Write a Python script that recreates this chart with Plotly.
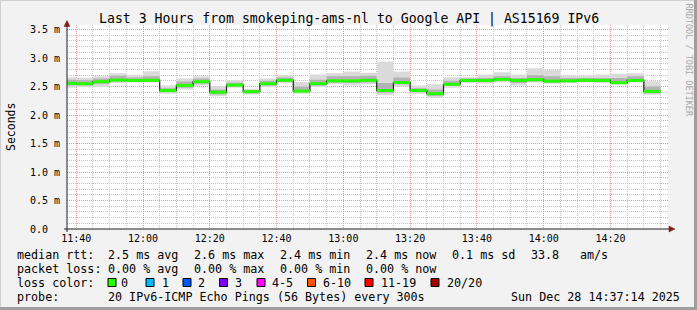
import plotly.graph_objects as go
from datetime import datetime, timedelta

# ---------------- data ----------------
title_text = "Last 3 Hours from smokeping-ams-nl to Google API | AS15169 IPv6"
first_slot = datetime(2025, 12, 28, 11, 35, 0)
slot_minutes = 5
range_start = "2025-12-28 11:37:14"
range_end = "2025-12-28 14:37:14"

median_ms = [2.555, 2.55, 2.585, 2.613, 2.607, 2.61, 2.43, 2.52, 2.585, 2.40,
             2.525, 2.41, 2.55, 2.61, 2.42, 2.55, 2.60, 2.60, 2.61, 2.43,
             2.57, 2.43, 2.375, 2.54, 2.607, 2.607, 2.625, 2.607, 2.62, 2.595,
             2.60, 2.61, 2.607, 2.567, 2.607, 2.415]
smoke_max_ms = [2.665, 2.655, 2.68, 2.735, 2.695, 2.77, 2.52, 2.64, 2.68, 2.51,
                2.61, 2.46, 2.64, 2.695, 2.58, 2.71, 2.735, 2.765, 2.74, 2.94,
                2.765, 2.52, 2.54, 2.665, 2.665, 2.71, 2.75, 2.71, 2.82, 2.795,
                2.695, 2.695, 2.71, 2.725, 2.735, 2.595]
smoke_min_ms = [2.48, 2.49, 2.49, 2.56, 2.57, 2.57, 2.375, 2.45, 2.52, 2.33,
                2.48, 2.36, 2.49, 2.56, 2.375, 2.49, 2.54, 2.52, 2.54, 2.345,
                2.50, 2.375, 2.30, 2.48, 2.56, 2.55, 2.57, 2.52, 2.57, 2.55,
                2.56, 2.57, 2.56, 2.55, 2.57, 2.357]
inner_hi_ms = [2.62, 2.61, 2.64, 2.69, 2.66, 2.68, 2.47, 2.59, 2.64, 2.45,
               2.57, 2.44, 2.60, 2.66, 2.50, 2.62, 2.68, 2.68, 2.69, 2.56,
               2.66, 2.47, 2.45, 2.60, 2.64, 2.65, 2.68, 2.65, 2.70, 2.68,
               2.65, 2.65, 2.65, 2.65, 2.68, 2.50]
inner_lo_ms = [2.52, 2.52, 2.55, 2.59, 2.59, 2.59, 2.40, 2.48, 2.55, 2.36,
               2.50, 2.38, 2.52, 2.58, 2.40, 2.52, 2.57, 2.56, 2.57, 2.39,
               2.54, 2.40, 2.34, 2.51, 2.58, 2.58, 2.60, 2.56, 2.59, 2.57,
               2.58, 2.59, 2.58, 2.54, 2.58, 2.38]

ytick_vals = [0.0, 0.5, 1.0, 1.5, 2.0, 2.5, 3.0, 3.5]
ytick_text = ["0.0\u00a0\u00a0", "0.5 m", "1.0 m", "1.5 m", "2.0 m", "2.5 m", "3.0 m", "3.5 m"]

legend_rows = [
    [("median rtt:", 16), ("2.5 ms avg", 107), ("2.6 ms max", 193), ("2.4 ms min", 279),
     ("2.4 ms now", 365), ("0.1 ms sd", 451), ("33.8", 530), ("am/s", 579)],
    [("packet loss:", 16), ("0.00 % avg", 107), ("0.00 % max", 193), ("0.00 % min", 279),
     ("0.00 % now", 365)],
    [("loss color:", 16)],
    [("probe:", 16), ("20 IPv6-ICMP Echo Pings (56 Bytes) every 300s", 107)],
]
loss_labels = ["0", "1", "2", "3", "4-5", "6-10", "11-19", "20/20"]
loss_colors = ["#26ff00", "#00b8ff", "#0059ff", "#7e00ff", "#ff00ff", "#ff5500", "#ff0000", "#a10000"]
loss_box_x = [108, 146, 183, 219.5, 257, 307.5, 365, 431]
loss_text_x = [120, 160.5, 197, 234.5, 270.5, 321.5, 380, 445.5]
date_text = "Sun Dec 28 14:37:14 2025"

# ---------------- geometry ----------------
W, H = 697, 310
L, R, T, B = 67, 668, 25, 229
PW, PH = R - L, B - T


def px(x):
    return (x - L) / PW


def py(y):
    return (B - y) / PH


n = len(median_ms)
times = [first_slot + timedelta(minutes=slot_minutes * k) for k in range(n + 1)]


def ext(v):
    return list(v) + [v[-1]]


fig = go.Figure()
fig.add_trace(go.Scatter(x=times, y=ext(smoke_min_ms), mode="lines", line=dict(width=0, shape="hv"),
                         hoverinfo="skip", showlegend=False))
fig.add_trace(go.Scatter(x=times, y=ext(smoke_max_ms), mode="lines", line=dict(width=0, shape="hv"),
                         fill="tonexty", fillcolor="#dadada", hoverinfo="skip", showlegend=False))
fig.add_trace(go.Scatter(x=times, y=ext(inner_lo_ms), mode="lines", line=dict(width=0, shape="hv"),
                         hoverinfo="skip", showlegend=False))
fig.add_trace(go.Scatter(x=times, y=ext(inner_hi_ms), mode="lines", line=dict(width=0, shape="hv"),
                         fill="tonexty", fillcolor="#b3b3b3", hoverinfo="skip", showlegend=False))
fig.add_trace(go.Scatter(x=times, y=ext(median_ms), mode="lines", line=dict(width=1.2, shape="hv", color="#202020"),
                         hoverinfo="skip", showlegend=False))
gx, gy = [], []
for k in range(n):
    gx += [times[k], times[k + 1], None]
    gy += [median_ms[k], median_ms[k], None]
fig.add_trace(go.Scatter(x=gx, y=gy, mode="lines", line=dict(width=3, color=loss_colors[0]),
                         hoverinfo="skip", showlegend=False))

mono = "DejaVu Sans Mono"
grid_minor = "#c4c4c4"
grid_major = "#eb9595"

# minor grid positions (skip the major ones so the red lines stay visible)
x_minor = []
t = datetime(2025, 12, 28, 11, 40)
while t <= datetime(2025, 12, 28, 14, 40):
    if t.minute % 20 != 0:
        x_minor.append(t)
    t += timedelta(minutes=5)
y_minor = [round(k * 0.1, 1) for k in range(36) if k % 5 != 0]

fig.update_layout(
    width=W, height=H,
    margin=dict(l=L, r=W - R, t=T, b=H - B, pad=0),
    paper_bgcolor="#f2f2f2", plot_bgcolor="#ffffff",
    showlegend=False,
    xaxis=dict(type="date", range=[range_start, range_end], tickformat="%H:%M",
               tick0="2025-12-28 11:40:00", dtick=1200000,
               showgrid=True, gridcolor=grid_major, griddash="1px,1px", gridwidth=1,
               minor=dict(tickmode="array", tickvals=x_minor, showgrid=True,
                          gridcolor=grid_minor, griddash="1px,1px", gridwidth=1),
               zeroline=False, showline=False, ticks="",
               tickfont=dict(family=mono, size=10, color="#000000"), ticklabelstandoff=2),
    yaxis=dict(range=[0, 3.58], tickvals=ytick_vals, ticktext=ytick_text,
               showgrid=True, gridcolor=grid_major, griddash="1px,1px", gridwidth=1,
               minor=dict(tickmode="array", tickvals=y_minor, showgrid=True, gridcolor=grid_minor,
                          griddash="1px,1px", gridwidth=1),
               zeroline=False, showline=False, ticks="",
               tickfont=dict(family=mono, size=10, color="#000000"), ticklabelstandoff=6),
)

shapes = []
# frame shading
shapes.append(dict(type="line", xref="paper", yref="paper", x0=px(0), x1=px(W), y0=py(0.5), y1=py(0.5),
                   line=dict(color="#cfcfcf", width=1)))
shapes.append(dict(type="line", xref="paper", yref="paper", x0=px(0.5), x1=px(0.5), y0=py(0), y1=py(H),
                   line=dict(color="#cfcfcf", width=1)))
shapes.append(dict(type="line", xref="paper", yref="paper", x0=px(0), x1=px(W), y0=py(308.5), y1=py(308.5),
                   line=dict(color="#9e9e9e", width=3)))
shapes.append(dict(type="line", xref="paper", yref="paper", x0=px(695.5), x1=px(695.5), y0=py(0), y1=py(H),
                   line=dict(color="#9e9e9e", width=3)))
# axes
shapes.append(dict(type="line", xref="paper", yref="paper", x0=px(67), x1=px(67), y0=py(232), y1=py(24),
                   line=dict(color="#1f1f1f", width=1)))
shapes.append(dict(type="line", xref="paper", yref="paper", x0=px(64), x1=px(670), y0=py(229), y1=py(229),
                   line=dict(color="#1f1f1f", width=1)))


def tri(points):
    return "M " + " L ".join(f"{px(a)},{py(b)}" for a, b in points) + " Z"


shapes.append(dict(type="path", xref="paper", yref="paper", path=tri([(64, 26.5), (70, 26.5), (67, 20.5)]),
                   fillcolor="#801f1f", line=dict(color="#801f1f", width=0.5)))
shapes.append(dict(type="path", xref="paper", yref="paper", path=tri([(669, 226), (669, 232), (675, 229)]),
                   fillcolor="#801f1f", line=dict(color="#801f1f", width=0.5)))
# loss colour boxes
for c, bx in zip(loss_colors, loss_box_x):
    shapes.append(dict(type="rect", xref="paper", yref="paper", x0=px(bx), x1=px(bx + 8),
                       y0=py(278.5), y1=py(286.5), fillcolor=c, line=dict(color="#000000", width=1)))
fig.update_layout(shapes=shapes)

ann = []
ann.append(dict(text=title_text, xref="paper", yref="paper", x=px(348.5), y=py(19), xanchor="center",
                yanchor="middle", showarrow=False, font=dict(family=mono, size=13.2, color="#000000")))
ann.append(dict(text="Seconds", xref="paper", yref="paper", x=px(11), y=py(127), xanchor="center",
                yanchor="middle", textangle=-90, showarrow=False, font=dict(family=mono, size=11.5, color="#000000")))
ann.append(dict(text="RRDTOOL / TOBI OETIKER", xref="paper", yref="paper", x=px(688.5), y=py(60), xanchor="center",
                yanchor="middle", textangle=90, showarrow=False, font=dict(family=mono, size=8.5, color="#a8a8a8")))
row_y = [254.5, 268.5, 282.5, 296.5]
for ry, row in zip(row_y, legend_rows):
    for txt, x in row:
        ann.append(dict(text=txt.replace(" ", "\u00a0"), xref="paper", yref="paper", x=px(x), y=py(ry),
                        xanchor="left", yanchor="middle", showarrow=False, borderpad=0,
                        font=dict(family=mono, size=11.7, color="#000000")))
for txt, x in zip(loss_labels, loss_text_x):
    ann.append(dict(text=txt, xref="paper", yref="paper", x=px(x), y=py(row_y[2]),
                    xanchor="left", yanchor="middle", showarrow=False, borderpad=0,
                    font=dict(family=mono, size=11.7, color="#000000")))
ann.append(dict(text=date_text.replace(" ", "\u00a0"), xref="paper", yref="paper", x=px(681), y=py(row_y[3]),
                xanchor="right", yanchor="middle", showarrow=False, borderpad=0,
                font=dict(family=mono, size=11.7, color="#000000")))
fig.update_layout(annotations=ann)

fig.write_html("out.html")
